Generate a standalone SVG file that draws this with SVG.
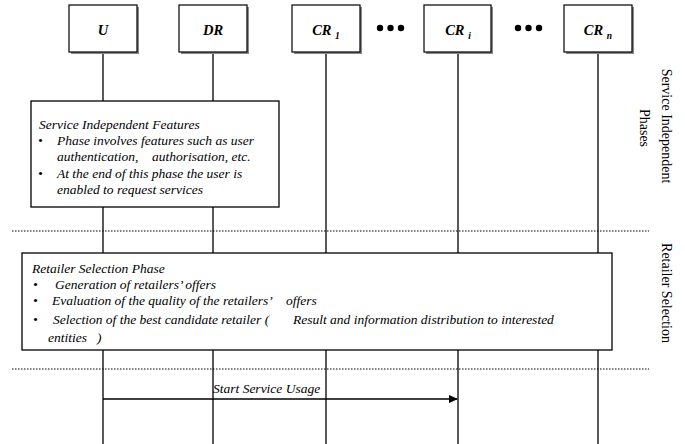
<svg xmlns="http://www.w3.org/2000/svg" width="685" height="444" viewBox="0 0 685 444">
<style>
.bg{fill:#fff}
.node{fill:#fff;stroke:#000;stroke-width:1.2}
.shadow{fill:#888}
.life{stroke:#000;stroke-width:1.3;fill:none}
.dot{stroke:#000;stroke-width:1;stroke-dasharray:1.5 1.5;fill:none}
.phase{fill:#fff;stroke:#000;stroke-width:1.3}
.hdr{font-family:"Liberation Serif",serif;font-style:italic;font-weight:bold;font-size:14.5px;fill:#000;text-anchor:middle}
.sub{font-size:9.5px}
.t{font-family:"Liberation Serif",serif;font-style:italic;font-size:13.5px;fill:#000}
.side{font-family:"Liberation Serif",serif;font-size:14px;fill:#000;text-anchor:middle}
.msg{stroke:#000;stroke-width:1.3;fill:none}
</style>
<defs>
<marker id="arr" markerWidth="9" markerHeight="8" refX="8" refY="4" orient="auto" markerUnits="userSpaceOnUse">
<path d="M0,0 L9,4 L0,8 Z" fill="#000"/>
</marker>
</defs>
<rect class="bg" x="0" y="0" width="685" height="444"/>

<g id="lifelines">
<line class="life" x1="103" y1="52" x2="103" y2="444"/>
<line class="life" x1="213" y1="52" x2="213" y2="444"/>
<line class="life" x1="326" y1="52" x2="326" y2="444"/>
<line class="life" x1="458" y1="52" x2="458" y2="444"/>
<line class="life" x1="598" y1="52" x2="598" y2="444"/>
</g>

<g id="node-U">
<rect class="shadow" x="71" y="7" width="68" height="47"/>
<rect class="node" x="69" y="5" width="68" height="47"/>
<text class="hdr" x="103" y="35">U</text>
</g>
<g id="node-DR">
<rect class="shadow" x="181" y="7" width="68" height="47"/>
<rect class="node" x="179" y="5" width="68" height="47"/>
<text class="hdr" x="213" y="35">DR</text>
</g>
<g id="node-CR1">
<rect class="shadow" x="294" y="7" width="68" height="47"/>
<rect class="node" x="292" y="5" width="68" height="47"/>
<text class="hdr" x="326" y="35">CR <tspan class="sub" dy="4">1</tspan></text>
</g>
<g id="dots1">
<circle cx="380" cy="28" r="3.2" fill="#000"/>
<circle cx="390.5" cy="28" r="3.2" fill="#000"/>
<circle cx="401" cy="28" r="3.2" fill="#000"/>
</g>
<g id="node-CRi">
<rect class="shadow" x="426" y="7" width="67" height="47"/>
<rect class="node" x="424" y="5" width="67" height="47"/>
<text class="hdr" x="458" y="35">CR <tspan class="sub" dy="4">i</tspan></text>
</g>
<g id="dots2">
<circle cx="518" cy="28" r="3.2" fill="#000"/>
<circle cx="528.5" cy="28" r="3.2" fill="#000"/>
<circle cx="539" cy="28" r="3.2" fill="#000"/>
</g>
<g id="node-CRn">
<rect class="shadow" x="566" y="7" width="68" height="47"/>
<rect class="node" x="564" y="5" width="68" height="47"/>
<text class="hdr" x="598" y="35">CR <tspan class="sub" dy="4">n</tspan></text>
</g>

<g id="phase-service-independent">
<rect class="phase" x="31" y="101" width="248" height="106"/>
<text class="t" x="39" y="129">Service Independent Features</text>
<text class="t" x="38" y="145">•</text>
<text class="t" x="57" y="145">Phase involves features such as user</text>
<text class="t" x="57" y="161">authentication,</text>
<text class="t" x="152" y="161">authorisation, etc.</text>
<text class="t" x="38" y="178">•</text>
<text class="t" x="57" y="178">At the end of this phase the user is</text>
<text class="t" x="57" y="194">enabled to request services</text>
</g>

<g id="phase-retailer-selection">
<rect class="phase" x="22" y="253" width="590" height="97"/>
<text class="t" x="32" y="273">Retailer Selection Phase</text>
<text class="t" x="33" y="289">•</text>
<text class="t" x="55" y="289">Generation of retailers’ offers</text>
<text class="t" x="33" y="305">•</text>
<text class="t" x="52" y="305">Evaluation of the quality of the retailers’</text>
<text class="t" x="286" y="305">offers</text>
<text class="t" x="33" y="324">•</text>
<text class="t" x="53" y="324">Selection of the best candidate retailer (</text>
<text class="t" x="293" y="324">Result and information distribution to interested</text>
<text class="t" x="48" y="342">entities</text>
<text class="t" x="97" y="342">)</text>
</g>

<g id="separators">
<line class="dot" x1="12" y1="231" x2="649" y2="231"/>
<line class="dot" x1="12" y1="369" x2="649" y2="369"/>
</g>

<g id="side-labels">
<text class="side" transform="translate(662,126) rotate(90)">Service Independent</text>
<text class="side" transform="translate(640,128) rotate(90)">Phases</text>
<text class="side" transform="translate(662,293) rotate(90)">Retailer Selection</text>
</g>

<g id="connectors">
<line class="msg" x1="103" y1="399" x2="457" y2="399" marker-end="url(#arr)"/>
<text class="t" x="213" y="393">Start Service Usage</text>
</g>
</svg>
